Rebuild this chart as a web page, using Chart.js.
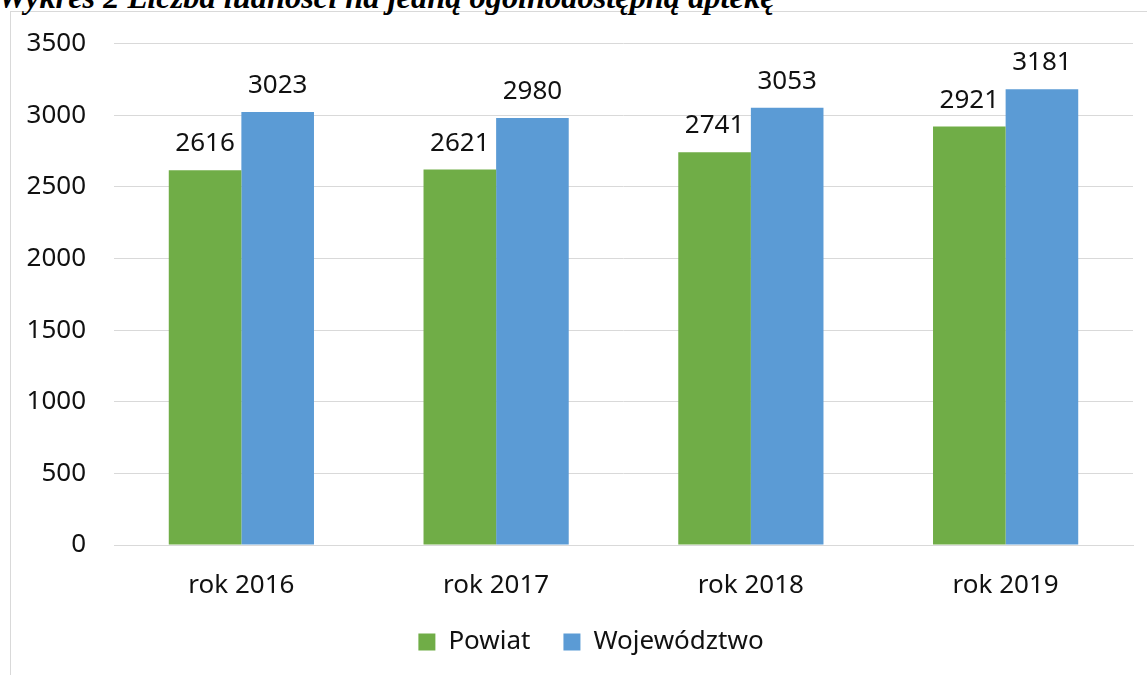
<!DOCTYPE html>
<html lang="pl">
<head>
<meta charset="UTF-8">
<title>Wykres 2</title>
<script src="https://cdn.jsdelivr.net/npm/chart.js"></script>
<style>
  html, body { margin: 0; padding: 0; background: #fff; overflow: hidden; }
  body { width: 1147px; height: 675px; position: relative; }
  .tytul {
    position: absolute; left: -2px; top: -19px;
    font: italic bold 32.4px "Liberation Serif", serif;
    line-height: 1;
    white-space: nowrap; color: #000;
  }
  .ramka {
    position: absolute; left: 10px; top: 11px; width: 1200px; height: 700px;
    border: 1px solid #d9d9d9; box-sizing: border-box; background: #fff;
  }
  #wykres { position: absolute; left: 0; top: 0; }
</style>
</head>
<body>
<div class="ramka"></div>
<div class="tytul">Wykres 2 Liczba ludności na jedną ogólnodostępną aptekę</div>
<canvas id="wykres" width="1147" height="675"></canvas>

<script>
  const lata = ['rok 2016', 'rok 2017', 'rok 2018', 'rok 2019'];
  const powiat = [2616, 2621, 2741, 2921];
  const wojewodztwo = [3023, 2980, 3053, 3181];

  const czcionka = '"Noto Sans", sans-serif';

  // etykiety z wartościami nad słupkami
  const etykiety = {
    id: 'etykiety',
    afterDatasetsDraw(chart) {
      const ctx = chart.ctx;
      ctx.save();
      ctx.font = '26px ' + czcionka;
      ctx.fillStyle = '#111';
      ctx.textAlign = 'center';
      ctx.textBaseline = 'alphabetic';
      chart.data.datasets.forEach((ds, i) => {
        chart.getDatasetMeta(i).data.forEach((bar, j) => {
          ctx.fillText(ds.data[j], bar.x, bar.y - 19);
        });
      });
      ctx.restore();
    }
  };

  // legenda w oryginale jest wyśrodkowana względem szerszej ramki
  const przesunLegende = {
    id: 'przesunLegende',
    afterLayout(chart) {
      const l = chart.legend;
      if (l) { l.left += 24.5; l.right += 24.5; }
    }
  };

  new Chart(document.getElementById('wykres'), {
    type: 'bar',
    data: {
      labels: lata,
      datasets: [
        { label: 'Powiat', data: powiat, backgroundColor: '#70ad47' },
        { label: 'Województwo', data: wojewodztwo, backgroundColor: '#5b9bd5' }
      ]
    },
    options: {
      responsive: false,
      animation: false,
      layout: { padding: { left: 0, right: 14, top: 43, bottom: 10 } },
      datasets: { bar: { categoryPercentage: 0.57, barPercentage: 1.0 } },
      scales: {
        x: {
          grid: { display: false },
          border: { color: '#d9d9d9' },
          ticks: { color: '#111', font: { family: czcionka, size: 26 }, padding: 17 },
          afterFit(s) { s.height = 51; }
        },
        y: {
          min: 0, max: 3500,
          grid: { color: '#d9d9d9', drawTicks: false },
          border: { display: false },
          ticks: {
            stepSize: 500, color: '#111', font: { family: czcionka, size: 26 }, padding: 28,
            callback: (v) => String(v)
          },
          afterFit(s) { s.width = 114; }
        }
      },
      plugins: {
        legend: {
          position: 'bottom',
          labels: {
            boxWidth: 17, boxHeight: 17, padding: 33,
            color: '#111', font: { family: czcionka, size: 26 }
          }
        },
        tooltip: { enabled: false }
      }
    },
    plugins: [etykiety, przesunLegende]
  });
</script>
</body>
</html>
